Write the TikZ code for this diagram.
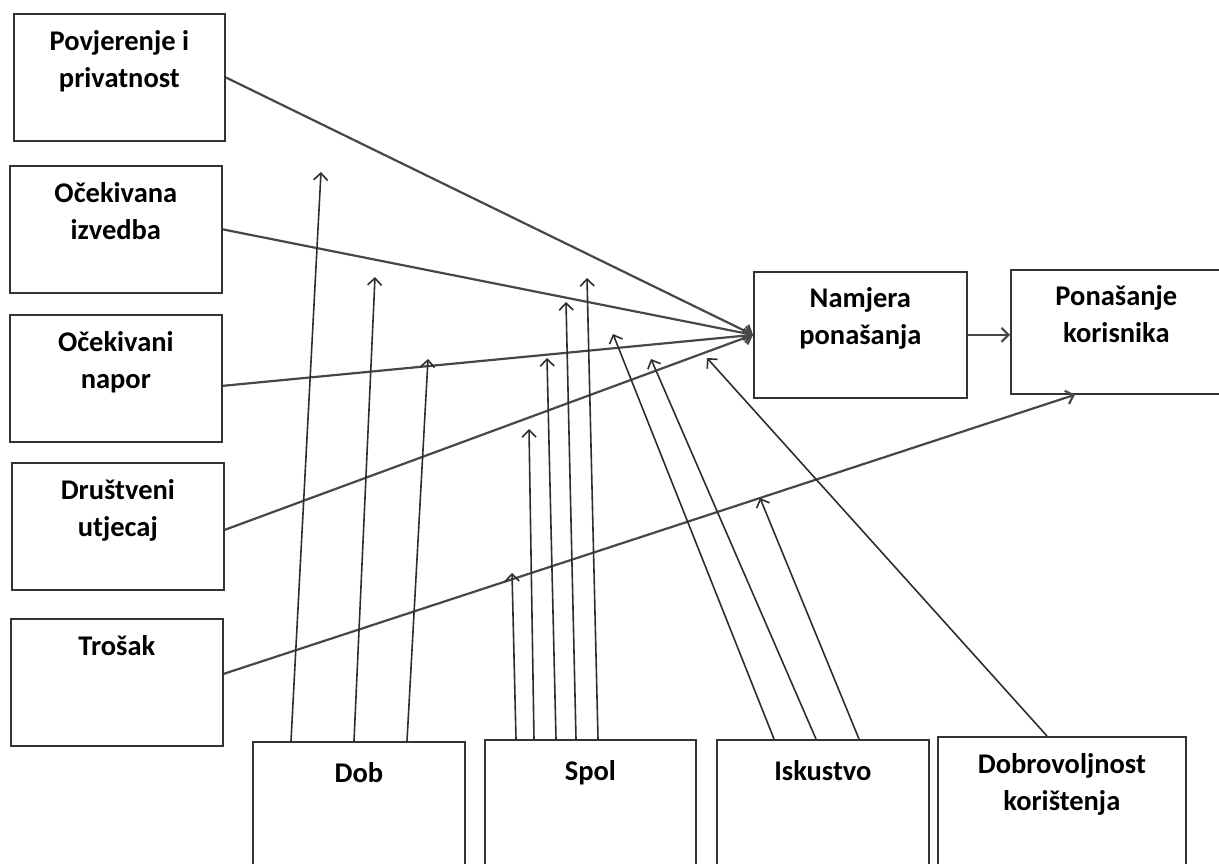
\documentclass[tikz,border=0pt]{standalone}
\usepackage{fontspec}
\setmainfont{Carlito}
\usepackage{tikz}
\usetikzlibrary{arrows.meta}

% text set at the top of a fixed-size box
\newcommand{\boxtext}[4][37pt]{\parbox[t][#3][t]{#2}{\centering\rule{0pt}{#1}#4}}

\begin{document}
\begin{tikzpicture}[x=1pt, y=-1pt,
    box/.style={rectangle, draw=black!80, line width=1.7pt, inner sep=0pt, anchor=north west,
                font=\bfseries\fontsize{28.5}{37}\selectfont},
    inline/.style={draw=black!72, line width=2.2pt, -{Straight Barb[length=7pt,width=14pt]}},
    modline/.style={draw=black!82, line width=1.6pt, -{Straight Barb[length=7pt,width=14pt]}}]
    \useasboundingbox (0,0) rectangle (1219,863);
    \clip (0,0) rectangle (1219,863);

    % predictors
    \node (povj)  [box] at (13,13)  {\boxtext{211pt}{127pt}{Povjerenje i\\privatnost}};
    \node (izved) [box] at (9,165)  {\boxtext{212pt}{127pt}{Očekivana\\izvedba}};
    \node (napor) [box] at (9,314)  {\boxtext{212pt}{127pt}{Očekivani\\napor}};
    \node (drus)  [box] at (11,462) {\boxtext{212pt}{127pt}{Društveni\\utjecaj}};
    \node (tros)  [box] at (10,618) {\boxtext{212pt}{127pt}{Trošak}};

    % intention and behaviour
    \node (namj) [box] at (753,271)  {\boxtext[36pt]{213pt}{126pt}{Namjera\\ponašanja}};
    \node (pon)  [box] at (1010,269) {\boxtext[36pt]{211pt}{124pt}{Ponašanje\\korisnika}};

    % moderators
    \node (dob)  [box] at (252,741) {\boxtext[41pt]{212pt}{127pt}{Dob}};
    \node (spol) [box] at (484,739) {\boxtext[41pt]{211pt}{127pt}{Spol}};
    \node (isk)  [box] at (716,739) {\boxtext[41pt]{212pt}{127pt}{Iskustvo}};
    \node (dobr) [box] at (937,736) {\boxtext[37pt]{248pt}{130pt}{Dobrovoljnost\\korištenja}};

    % arrow ends on the paths
    \coordinate (d1) at (321,172);
    \coordinate (d2) at (375,277);
    \coordinate (d3) at (428,359);
    \coordinate (s1) at (512,573);
    \coordinate (s2) at (529,429);
    \coordinate (s3) at (547,358);
    \coordinate (s4) at (566,302);
    \coordinate (s5) at (587,278);
    \coordinate (i1) at (613,334);
    \coordinate (i2) at (651,359);
    \coordinate (i3) at (760,498);
    \coordinate (v1) at (707,358);

    \draw [inline] (povj.east) -- (namj.west);
    \draw [inline] (izved.east) -- (namj.west);
    \draw [inline] ([yshift=-7.5pt]napor.east) -- (namj.west);
    \draw [inline] ([yshift=-3.5pt]drus.east) -- (namj.west);
    \draw [inline] ([yshift=8.5pt]tros.east) -- ([xshift=65pt]pon.south west);
    \draw [inline] (namj.east) -- (namj.east -| pon.west);

    \draw [modline] ([xshift=39pt]dob.north west) -- (d1);
    \draw [modline] ([xshift=102pt]dob.north west) -- (d2);
    \draw [modline] ([xshift=155pt]dob.north west) -- (d3);

    \draw [modline] ([xshift=32pt]spol.north west) -- (s1);
    \draw [modline] ([xshift=50pt]spol.north west) -- (s2);
    \draw [modline] ([xshift=72pt]spol.north west) -- (s3);
    \draw [modline] ([xshift=92pt]spol.north west) -- (s4);
    \draw [modline] ([xshift=114pt]spol.north west) -- (s5);

    \draw [modline] ([xshift=58pt]isk.north west) -- (i1);
    \draw [modline] ([xshift=100pt]isk.north west) -- (i2);
    \draw [modline] ([xshift=143pt]isk.north west) -- (i3);

    \draw [modline] ([xshift=110pt]dobr.north west) -- (v1);
\end{tikzpicture}
\end{document}
